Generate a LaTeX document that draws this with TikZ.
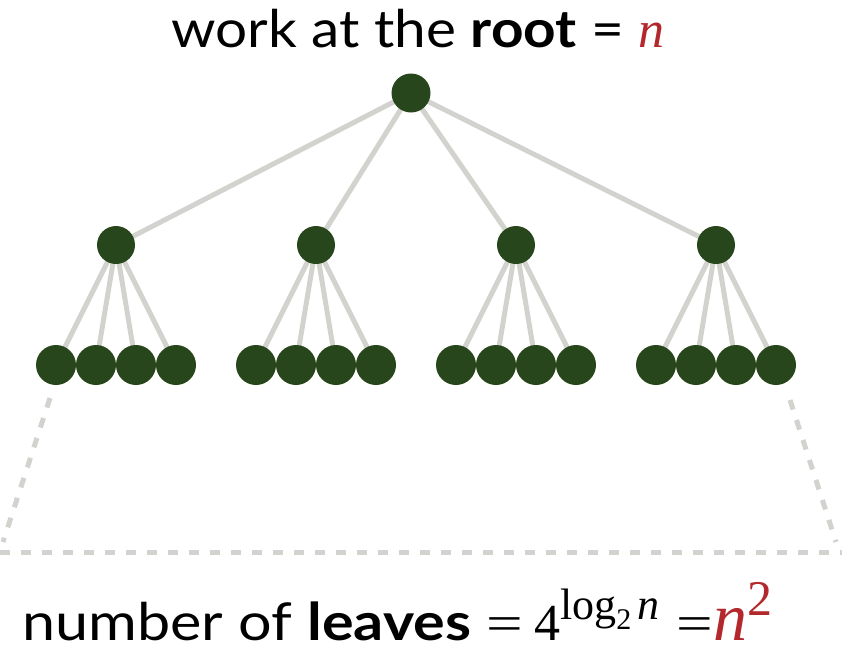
\documentclass[tikz,border=0pt]{standalone}
\usepackage{fontspec}
\setmainfont{Lato}
\newfontfamily\topsans[FakeStretch=1.09]{Lato}
\newfontfamily\botsans[FakeStretch=1.14]{Lato}
\newfontfamily\serifnum{Liberation Serif}
\definecolor{nodegreen}{HTML}{28461B}
\definecolor{edgegray}{HTML}{D2D2CE}
\definecolor{hired}{HTML}{B3282D}
\newcommand{\fs}[1]{\fontsize{#1}{#1}\selectfont}
\begin{document}
\begin{tikzpicture}[x=1pt,y=-1pt,
  dot/.style={circle,fill=nodegreen,inner sep=0pt,minimum size=#1},
  dot/.default=39pt,
  edge/.style={draw=edgegray,line width=5pt},
  dashline/.style={draw=edgegray,line width=5pt,dash pattern=on 10pt off 11pt},
  lbl/.style={inner sep=0pt,anchor=base}]
\useasboundingbox (0,0) rectangle (842,646);
% positions of nodes
\coordinate (r) at (411,93);
\foreach \i/\x in {1/116,2/316,3/516,4/716}{
  \coordinate (m\i) at (\x,245);
  \foreach \j/\d in {1/-60,2/-20,3/20,4/60}{
    \coordinate (l\i\j) at (\x+\d,365);
  }
}
% edges
\foreach \i in {1,2,3,4}{
  \draw[edge] (r) -- (m\i);
  \foreach \j in {1,2,3,4}{
    \draw[edge] (m\i) -- (l\i\j);
  }
}
% nodes on top
\node[dot] (root) at (r) {};
\foreach \i in {1,2,3,4}{
  \node[dot=38pt] (mid\i) at (m\i) {};
  \foreach \j in {1,2,3,4}{
    \node[dot=40pt] (leaf\i\j) at (l\i\j) {};
  }
}
% dashed outline
\coordinate (dtl) at (50,398);
\coordinate (dbl) at (3,542);
\coordinate (dtr) at (790,400);
\coordinate (dbr) at (836,542);
\coordinate (bl) at (0,552);
\coordinate (br) at (842,552);
\draw[dashline] (dtl) -- (dbl);
\draw[dashline] (dtr) -- (dbr);
\draw[dashline] (bl) -- (br);
% texts
\node[lbl] (top) at (418,47) {\topsans\fs{52}work at the \textbf{root} = \textcolor{hired}{\serifnum\itshape\fs{52}n}};
\node[lbl,anchor=base west] (bot) at (22,640) {\botsans\fs{52}number of \textbf{leaves}};
\node[lbl] (eq1) at (505,640) {\serifnum\fs{50}\scalebox{1.3}[1]{=}};
\node[lbl,anchor=base west] (pow) at (534,640) {\serifnum\fs{52}4\raisebox{21pt}{\fs{44}log\raisebox{-10pt}{\fs{30}2}\hspace{6pt}\itshape n}};
\node[lbl] (eq2) at (695,640) {\serifnum\fs{50}\scalebox{1.3}[1]{=}};
\node[lbl,anchor=base west] (sq) at (713,640) {\color{hired}\serifnum\fs{68}\itshape n\raisebox{25pt}{\upshape\fs{50}2}};
\end{tikzpicture}
\end{document}
